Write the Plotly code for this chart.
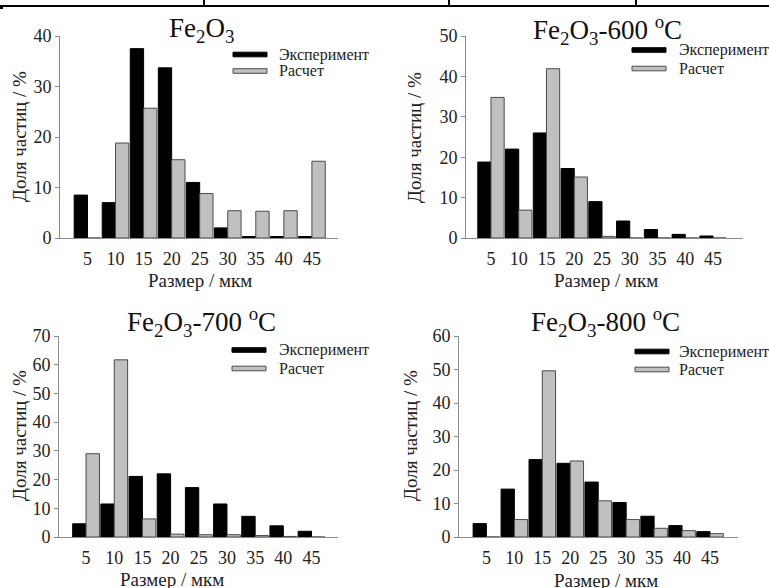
import plotly.graph_objects as go

W, H = 769, 588

sizes = [5, 10, 15, 20, 25, 30, 35, 40, 45]
tick_labels = ["5", "10", "15", "20", "25", "30", "35", "40", "45"]

exp_fe2o3 = [8.5, 7.0, 37.5, 33.7, 11.0, 2.0, 0.3, 0.3, 0.3]
calc_fe2o3 = [0.0, 18.8, 25.7, 15.5, 8.8, 5.4, 5.3, 5.4, 15.2]

exp_600 = [18.8, 22.0, 26.0, 17.2, 9.0, 4.2, 2.1, 0.9, 0.5]
calc_600 = [34.8, 6.9, 41.9, 15.1, 0.4, 0.0, 0.0, 0.0, 0.0]

exp_700 = [4.6, 11.5, 21.1, 22.0, 17.2, 11.5, 7.2, 3.9, 2.0]
calc_700 = [29.0, 61.7, 6.3, 1.0, 0.8, 0.8, 0.5, 0.2, 0.0]

exp_800 = [4.0, 14.3, 23.1, 22.0, 16.4, 10.3, 6.2, 3.4, 1.6]
calc_800 = [0.0, 5.2, 49.6, 22.7, 10.8, 5.2, 2.6, 1.9, 1.0]

series_names = ["Эксперимент", "Расчет"]
panel_titles = [
    "Fe<sub>2</sub>O<sub>3</sub>",
    "Fe<sub>2</sub>O<sub>3</sub>-600 <sup>o</sup>C",
    "Fe<sub>2</sub>O<sub>3</sub>-700 <sup>o</sup>C",
    "Fe<sub>2</sub>O<sub>3</sub>-800 <sup>o</sup>C",
]
y_title = "Доля частиц / %"
x_title = "Размер / мкм"
y_max = [40, 50, 70, 60]

FONT = "Liberation Serif"
GRAY = "#c0c0c0"
EDGE = "#4a4a4a"


def px(x):
    return x / W


def py(y):
    return 1 - y / H


panels = [
    dict(box=(60, 338, 36, 238), xr=[0.1, 49.65], data=(exp_fe2o3, calc_fe2o3),
         title=(201, 30), leg=(233, 277, 54.5, 71), xt=(200, 281), yt=(19, 137)),
    dict(box=(466, 743, 36, 238), xr=[0.5, 50.4], data=(exp_600, calc_600),
         title=(607, 30), leg=(632, 677, 50, 68.5), xt=(606, 281), yt=(414, 137)),
    dict(box=(59, 338, 336, 537), xr=[0.2, 49.7], data=(exp_700, calc_700),
         title=(201, 322), leg=(232, 277, 350, 368.5), xt=(172, 579), yt=(19, 436)),
    dict(box=(459, 738, 336, 537), xr=[0.1, 50.0], data=(exp_800, calc_800),
         title=(605, 322), leg=(635, 677, 351.5, 369.5), xt=(606, 580), yt=(410, 436)),
]

fig = go.Figure()
annotations = []
shapes = []

for i, p in enumerate(panels):
    n = "" if i == 0 else str(i + 1)
    exp_vals, calc_vals = p["data"]
    fig.add_trace(go.Bar(
        x=sizes, y=exp_vals, name=series_names[0], xaxis="x" + n, yaxis="y" + n,
        marker=dict(color="#000000", line=dict(color="#000000", width=1)),
        showlegend=False, offsetgroup="a",
    ))
    fig.add_trace(go.Bar(
        x=sizes, y=calc_vals, name=series_names[1], xaxis="x" + n, yaxis="y" + n,
        marker=dict(color=GRAY, line=dict(color=EDGE, width=1)),
        showlegend=False, offsetgroup="b",
    ))
    x0, x1, yt0, yb = p["box"]
    xa = dict(
        domain=[px(x0), px(x1)], range=p["xr"], anchor="y" + n,
        tickvals=sizes, ticktext=tick_labels, showgrid=False, zeroline=False,
        showline=True, linecolor="#8a8a8a", linewidth=1,
        ticks="outside", ticklen=4, tickcolor="rgba(0,0,0,0)",
        tickfont=dict(family=FONT, size=18, color="#222"),
    )
    ya = dict(
        domain=[py(yb), py(yt0)], range=[0, y_max[i]], anchor="x" + n,
        dtick=10, showgrid=False, zeroline=False,
        showline=True, linecolor="#8a8a8a", linewidth=1,
        ticks="outside", ticklen=4, tickcolor="#8a8a8a",
        tickfont=dict(family=FONT, size=18, color="#222"),
    )
    fig.layout["xaxis" + n] = xa
    fig.layout["yaxis" + n] = ya

    tx, ty = p["title"]
    annotations.append(dict(
        text=panel_titles[i], x=px(tx), y=py(ty), xref="paper", yref="paper",
        xanchor="center", yanchor="middle", showarrow=False,
        font=dict(family=FONT, size=27, color="#111"),
    ))
    ax_x, ax_y = p["xt"]
    annotations.append(dict(
        text=x_title, x=px(ax_x), y=py(ax_y), xref="paper", yref="paper",
        xanchor="center", yanchor="middle", showarrow=False,
        font=dict(family=FONT, size=19, color="#222"),
    ))
    ay_x, ay_y = p["yt"]
    annotations.append(dict(
        text=y_title, x=px(ay_x), y=py(ay_y), xref="paper", yref="paper",
        xanchor="center", yanchor="middle", showarrow=False, textangle=-90,
        font=dict(family=FONT, size=19, color="#222"),
    ))
    sx, tx2, ly1, ly2 = p["leg"]
    shapes.append(dict(type="rect", xref="paper", yref="paper",
                       x0=px(sx), x1=px(sx + 34), y0=py(ly1 + 2.3), y1=py(ly1 - 2.3),
                       fillcolor="#000", line=dict(color="#000", width=1)))
    shapes.append(dict(type="rect", xref="paper", yref="paper",
                       x0=px(sx), x1=px(sx + 34), y0=py(ly2 + 2.3), y1=py(ly2 - 2.3),
                       fillcolor=GRAY, line=dict(color=EDGE, width=1)))
    for name, ly in zip(series_names, (ly1, ly2)):
        annotations.append(dict(
            text=name, x=px(tx2), y=py(ly), xref="paper", yref="paper",
            xanchor="left", yanchor="middle", showarrow=False,
            font=dict(family=FONT, size=16, color="#222"),
        ))

shapes.append(dict(type="line", xref="paper", yref="paper",
                   x0=0, x1=1, y0=py(6), y1=py(6), line=dict(color="#000", width=2)))
for vx in (204, 449, 636):
    shapes.append(dict(type="line", xref="paper", yref="paper",
                       x0=px(vx), x1=px(vx), y0=py(0), y1=py(6),
                       line=dict(color="#000", width=2)))
shapes.append(dict(type="line", xref="paper", yref="paper",
                   x0=0, x1=px(3), y0=py(8), y1=py(8), line=dict(color="#000", width=2)))

fig.update_layout(
    width=W, height=H, margin=dict(l=0, r=0, t=0, b=0, autoexpand=False),
    paper_bgcolor="white", plot_bgcolor="white",
    barmode="group", bargap=0.05, bargroupgap=0.0,
    annotations=annotations, shapes=shapes, showlegend=False,
)

fig.write_html(
    "out.html",
    config={"displayModeBar": False},
    post_script="document.body.style.margin='0';document.body.style.overflow='hidden';",
)
